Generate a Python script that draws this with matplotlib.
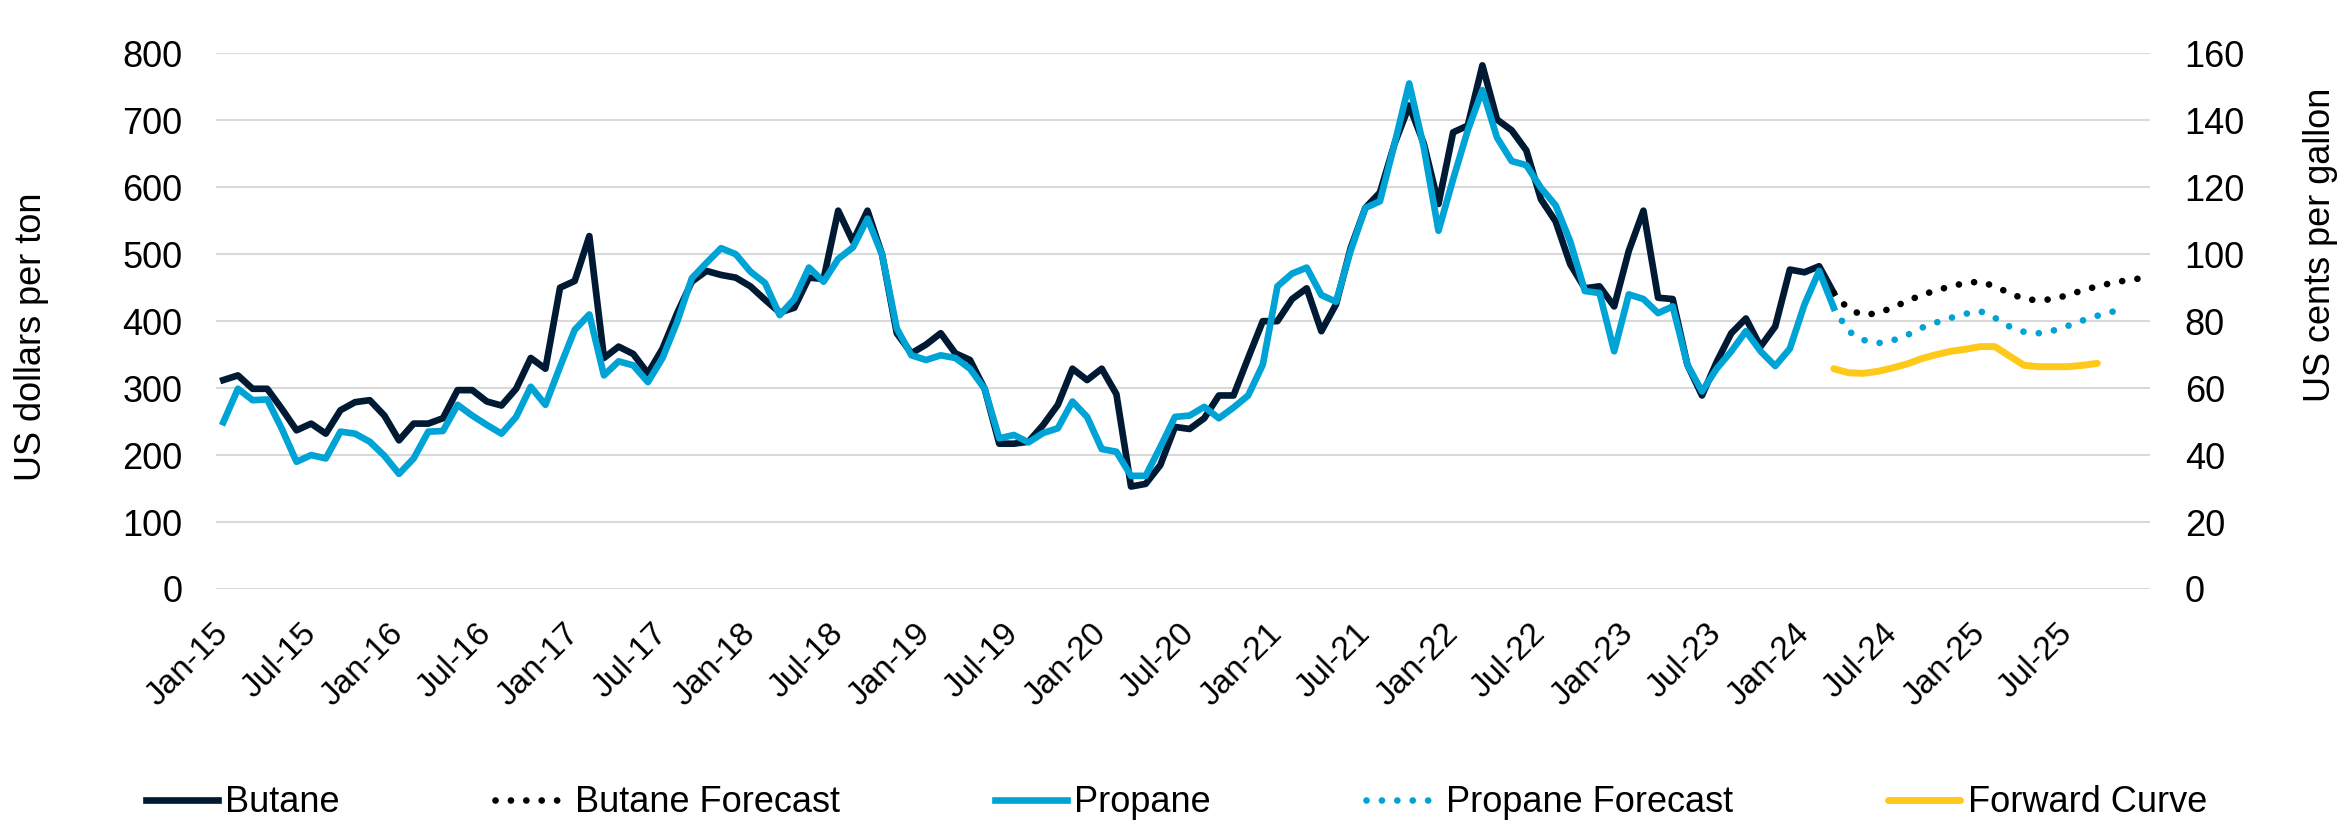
import matplotlib
matplotlib.use("Agg")
import matplotlib.pyplot as plt
import numpy as np
import pandas as pd

plt.rcParams['font.family'] = ['Liberation Sans', 'DejaVu Sans']

# monthly axis Jan-15 .. Dec-25
months = pd.date_range('2015-01-01', '2025-12-01', freq='MS')
tick_labels = [d.strftime('%b-%y') for d in months[::6]]

# actuals, Jan-15 .. Mar-24 (US$/t)
butane = [312, 319, 299, 299, 269, 237, 247, 232, 267, 279, 282, 259, 222,
          247, 247, 255, 297, 297, 280, 274, 299, 345, 329, 450, 460, 527,
          345, 362, 351, 322, 359, 412, 459, 475, 469, 465, 452, 432, 413,
          420, 465, 463, 565, 519, 565, 499, 382, 352, 365, 382, 352, 342,
          299, 217, 217, 220, 245, 275, 329, 312, 329, 291, 153, 157, 185,
          242, 239, 255, 289, 289, 345, 400, 400, 433, 449, 385, 425, 509,
          569, 592, 665, 722, 665, 575, 682, 692, 782, 701,
          685, 655, 582, 549, 485, 449, 452, 422, 505, 565, 435, 433, 335,
          289, 339, 382, 404, 362, 392, 477, 473, 482, 442]
propane = [249, 299, 282, 283, 239, 190, 200, 195, 235, 232, 220, 199, 172,
           195, 235, 236, 275, 259, 245, 232, 257, 302, 275, 332, 387, 410,
           319, 340, 334, 309, 345, 399, 464, 487, 509, 500, 474, 457, 409,
           433, 480, 459, 493, 510, 553, 499, 389, 349, 342, 349, 345, 329,
           299, 225, 230, 219, 233, 240, 280, 257, 209, 205, 169, 169, 212,
           257, 259, 272, 255, 271, 289, 335, 452, 471, 480, 439, 429, 505,
           569, 579, 665, 755, 659, 535, 612, 685, 745, 674,
           639, 633, 599, 573, 519, 445, 442, 355, 440, 433, 412, 422, 335,
           295, 329, 355, 385, 355, 333, 359, 425, 475, 420]

# forecasts from Mar-24
butane_fc = [442, 418, 409, 412, 420, 430, 439, 446, 452, 457, 459, 452,
             442, 433, 431, 433, 439, 446, 452, 457, 461, 464]
propane_fc = [420, 385, 372, 367, 371, 379, 390, 398, 405, 411, 415, 405,
              392, 384, 382, 386, 393, 401, 408, 414, 418]
forward = [329, 323, 322, 325, 330, 336, 344, 350, 355, 358, 362, 362,
           348, 334, 332, 332, 332, 334, 337]

x = np.arange(len(months))
fc0 = len(butane) - 1

fig = plt.figure(figsize=(23.43, 8.23), dpi=100)
ax = fig.add_axes([216/2343, 1-589/823, (2150-216)/2343, (589-53.3)/823])

dot = (0, (0.01, 2.3))
l1, = ax.plot(x[:len(butane)], butane, color='#001A33', lw=4.8, label='Butane')
l2, = ax.plot(x[fc0:fc0+len(butane_fc)], butane_fc, color='#000000', lw=4.8,
              ls=dot, dash_capstyle='round', label='Butane Forecast')
l3, = ax.plot(x[:len(propane)], propane, color='#00A3D6', lw=4.8, label='Propane')
l4, = ax.plot(x[fc0:fc0+len(propane_fc)], propane_fc, color='#00A3D6', lw=4.8,
              ls=dot, dash_capstyle='round', label='Propane Forecast')
l5, = ax.plot(x[fc0:fc0+len(forward)], forward, color='#FFC91A', lw=5,
              solid_capstyle='round', label='Forward Curve')

ax.set_xlim(-0.5, 131.6)
ax.set_ylim(0, 800)
ax.set_yticks(range(0, 801, 100))
ax.set_xticks(x[::6])
ax.set_xticklabels(tick_labels, rotation=45, ha='right', va='center',
                   rotation_mode='anchor')
ax.tick_params(axis='x', length=0, pad=29, labelsize=24)
ax.tick_params(axis='y', length=0, pad=24, labelsize=26)
ax.grid(axis='y', color='#D9D9D9', lw=1.5)
ax.set_axisbelow(True)
for s in ax.spines.values():
    s.set_visible(False)

ax2 = ax.twinx()
ax2.set_ylim(0, 160)
ax2.set_yticks(range(0, 161, 20))
ax2.tick_params(axis='y', length=0, pad=25, labelsize=26)
for s in ax2.spines.values():
    s.set_visible(False)

fig.text(32/2343, 1-337/823, 'US dollars per ton', rotation=90,
         ha='center', va='center', fontsize=26)
fig.text(2320/2343, 1-245/823, 'US cents per gallon', rotation=90,
         ha='center', va='center', fontsize=26)

fig.legend(handles=[l1, l2, l3, l4, l5], loc='center left',
           bbox_to_anchor=(146/2343, 1-803/823), ncol=5, frameon=False,
           fontsize=26, handlelength=2.0, handletextpad=0.2,
           columnspacing=4.3, borderpad=0, borderaxespad=0)

fig.savefig('out.png', dpi=100)
